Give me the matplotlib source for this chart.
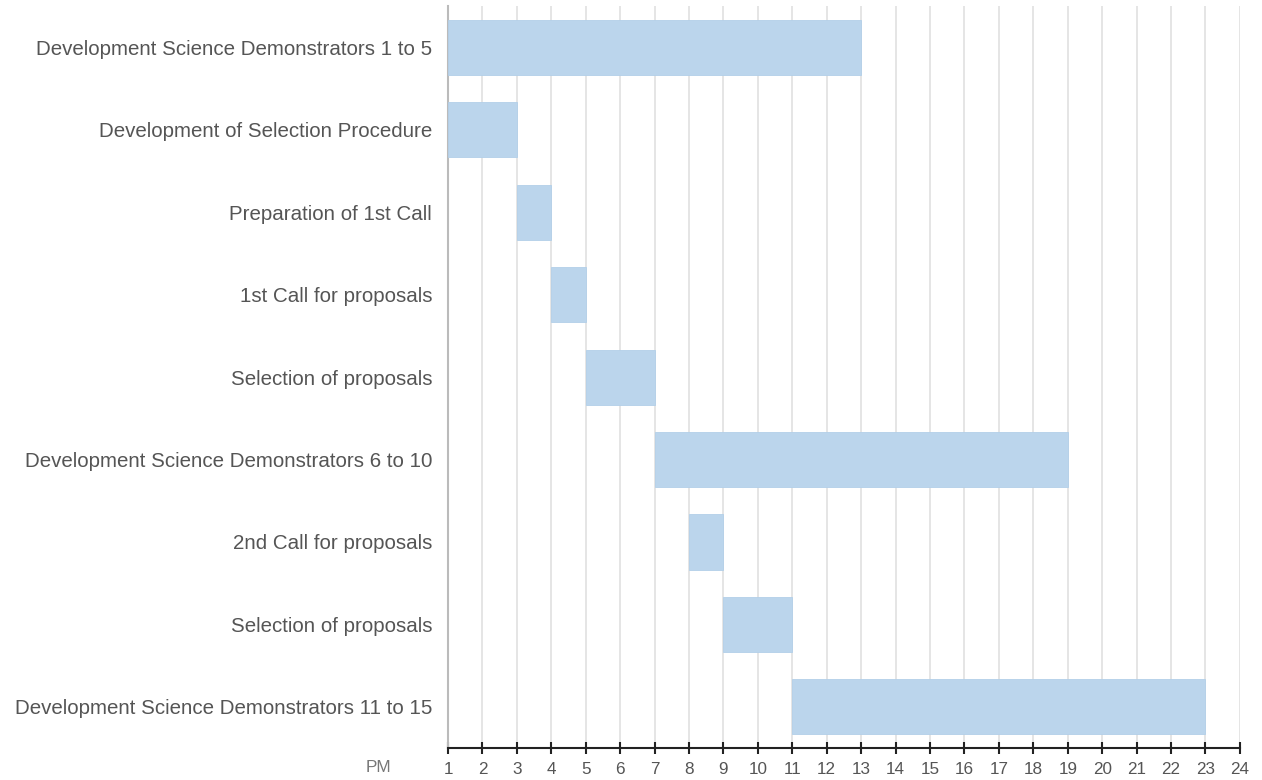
import matplotlib.pyplot as plt

plt.rcParams['font.family'] = ['Liberation Sans', 'DejaVu Sans']

tasks = [
    'Development Science Demonstrators 1 to 5',
    'Development of Selection Procedure',
    'Preparation of 1st Call',
    '1st Call for proposals',
    'Selection of proposals',
    'Development Science Demonstrators 6 to 10',
    '2nd Call for proposals',
    'Selection of proposals',
    'Development Science Demonstrators 11 to 15',
]
starts = [1, 1, 3, 4, 5, 7, 8, 9, 11]
ends = [13, 3, 4, 5, 7, 19, 9, 11, 23]
months = list(range(1, 25))

BAR_COLOR = '#bbd5ec'
TEXT_COLOR = '#555555'

fig = plt.figure(figsize=(12.62, 7.80), dpi=100)
ax = fig.add_axes([0.355, 0.041, 0.6275, 0.951])

ypos = list(range(len(tasks)))
widths = [e - s for s, e in zip(starts, ends)]
ax.barh(ypos, widths, left=starts, height=0.67, color=BAR_COLOR,
        edgecolor='#b3cfe8', linewidth=0.6, zorder=3)

ax.set_ylim(len(tasks) - 0.5, -0.5)
ax.set_xlim(months[0], months[-1])
ax.set_yticks(ypos)
ax.set_yticklabels(tasks, fontsize=14.8, color=TEXT_COLOR)
ax.tick_params(axis='y', length=0, pad=11.5)

ax.set_xticks(months)
ax.set_xticklabels([str(m) for m in months], fontsize=12.3, color=TEXT_COLOR)
ax.tick_params(axis='x', direction='inout', length=8, width=1.5, color='#222222', pad=6)

ax.grid(axis='x', color='#e0e0e0', linewidth=1.2, zorder=0)
ax.set_axisbelow(True)

for s in ['top', 'right']:
    ax.spines[s].set_visible(False)
ax.spines['left'].set_color('#bbbbbb')
ax.spines['left'].set_linewidth(1.5)
ax.spines['bottom'].set_color('#222222')
ax.spines['bottom'].set_linewidth(1.5)

fig.text(378 / 1262, 1 - 768 / 780, 'PM', fontsize=12.3, color='#777777',
         ha='center', va='center')

fig.savefig('out.png', dpi=100)
